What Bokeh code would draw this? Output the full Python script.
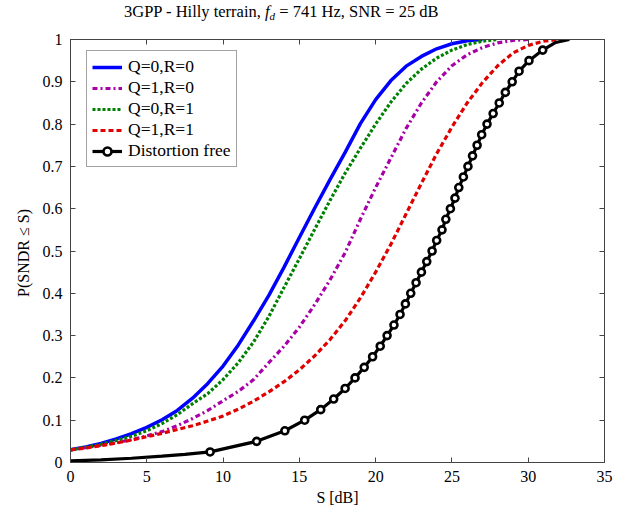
from bokeh.plotting import figure
from bokeh.models import LinearAxis, FixedTicker, Range1d, Div, CustomLabelingPolicy
from bokeh.layouts import column
from bokeh.embed import file_html
from bokeh.resources import INLINE

# ---------------- data ----------------
x_ticks = [0, 5, 10, 15, 20, 25, 30, 35]
y_ticks = [0, 0.1, 0.2, 0.3, 0.4, 0.5, 0.6, 0.7, 0.8, 0.9, 1]

q0r0_x = [0, 1, 2, 3, 4, 5, 6, 7, 8, 9, 10, 11, 12, 13, 14, 15, 16, 17, 18, 19, 20, 21, 22, 23, 24, 25, 26, 27]
q0r0_p = [0.030, 0.037, 0.045, 0.056, 0.068, 0.083, 0.101, 0.123, 0.152, 0.187, 0.228, 0.278, 0.335, 0.395,
          0.462, 0.532, 0.601, 0.668, 0.733, 0.801, 0.858, 0.903, 0.937, 0.960, 0.978, 0.990, 0.997, 1.0]

q1r0_x = [0, 1, 2, 3, 4, 5, 6, 7, 8, 9, 10, 11, 12, 13, 14, 15, 16, 17, 18, 19, 20, 21, 22, 23, 24, 25, 26, 27, 28, 29, 30]
q1r0_p = [0.030, 0.035, 0.041, 0.047, 0.054, 0.063, 0.073, 0.087, 0.104, 0.123, 0.146, 0.168, 0.196, 0.236,
          0.275, 0.320, 0.373, 0.431, 0.496, 0.575, 0.650, 0.720, 0.790, 0.850, 0.900, 0.938, 0.964, 0.981,
          0.992, 0.998, 1.0]

q0r1_x = [0, 1, 2, 3, 4, 5, 6, 7, 8, 9, 10, 11, 12, 13, 14, 15, 16, 17, 18, 19, 20, 21, 22, 23, 24, 25, 26, 27, 28]
q0r1_p = [0.030, 0.036, 0.043, 0.052, 0.062, 0.075, 0.092, 0.113, 0.139, 0.163, 0.196, 0.236, 0.285, 0.345,
          0.414, 0.482, 0.551, 0.619, 0.684, 0.743, 0.800, 0.852, 0.896, 0.930, 0.956, 0.975, 0.988, 0.996, 1.0]

q1r1_x = [0, 1, 2, 3, 4, 5, 6, 7, 8, 9, 10, 11, 12, 13, 14, 15, 16, 17, 18, 19, 20, 21, 22, 23, 24, 25, 26, 27, 28, 29, 30, 31, 32]
q1r1_p = [0.030, 0.034, 0.040, 0.046, 0.053, 0.061, 0.069, 0.078, 0.087, 0.098, 0.110, 0.126, 0.145, 0.167,
          0.191, 0.219, 0.252, 0.290, 0.335, 0.389, 0.450, 0.516, 0.588, 0.660, 0.730, 0.793, 0.850, 0.898,
          0.938, 0.968, 0.986, 0.996, 1.0]

df_head_x = [0, 2, 4, 6, 7.5]
df_head_p = [0.004, 0.006, 0.010, 0.015, 0.019]
df_mark_x = [9.15, 12.2, 14.05, 15.35, 16.4, 17.25, 18.0, 18.65, 19.25, 19.8,
             20.3, 20.75, 21.2, 21.6, 21.95, 22.3, 22.65, 23.0, 23.35, 23.7,
             24.0, 24.35, 24.6, 24.9, 25.2, 25.45, 25.75, 26.05, 26.35, 26.65,
             26.95, 27.3, 27.7, 28.1, 28.5, 28.95, 29.4, 30.05, 30.95]
df_mark_p = [0.025, 0.05, 0.075, 0.1, 0.125, 0.15, 0.175, 0.2, 0.225, 0.25,
             0.275, 0.3, 0.325, 0.35, 0.375, 0.4, 0.425, 0.45, 0.475, 0.5,
             0.525, 0.55, 0.575, 0.6, 0.625, 0.65, 0.675, 0.7, 0.725, 0.75,
             0.775, 0.8, 0.825, 0.85, 0.875, 0.9, 0.925, 0.95, 0.975]
df_tail_x = [31.8, 32.7]
df_tail_p = [0.993, 1.0]

labels = ["Q=0,R=0", "Q=1,R=0", "Q=0,R=1", "Q=1,R=1", "Distortion free"]

# ---------------- figure ----------------
FONT = "Liberation Serif"
AX = "#444444"

p = figure(width=623, height=485, x_range=Range1d(0, 35), y_range=Range1d(0, 1),
           output_backend="svg", toolbar_location=None, margin=(0, 0, 0, 0),
           min_border_left=70, min_border_right=19, min_border_top=14, min_border_bottom=48)
p.xgrid.visible = False
p.ygrid.visible = False
p.outline_line_color = AX
p.outline_line_width = 1
p.background_fill_color = "white"
p.border_fill_color = "white"

def style_axis(ax, ticks, show_labels):
    ax.ticker = FixedTicker(ticks=ticks)
    ax.major_tick_in = 5
    ax.major_tick_out = 0
    ax.minor_tick_in = 0
    ax.minor_tick_out = 0
    ax.major_tick_line_color = AX
    ax.axis_line_color = AX
    if show_labels:
        ax.major_label_text_font = FONT
        ax.major_label_text_font_size = "16px"
        ax.major_label_text_color = "black"
        ax.axis_label_text_font = FONT
        ax.axis_label_text_font_size = "16px"
        ax.axis_label_text_font_style = "normal"
        ax.axis_label_text_color = "black"
    else:
        ax.major_label_policy = CustomLabelingPolicy(code="return []")
        ax.major_label_text_font_size = "0px"
        ax.major_label_standoff = 0
        ax.axis_label_standoff = 0

xa = p.xaxis[0]
ya = p.yaxis[0]
style_axis(xa, x_ticks, True)
style_axis(ya, y_ticks, True)
xa.axis_label = "S [dB]"
xa.major_label_standoff = 8
xa.axis_label_standoff = 4
ya.axis_label = "P(SNDR  \u2264 S)"
ya.major_label_standoff = 8
ya.axis_label_standoff = 8
ya.major_label_overrides = {0: "0", 1: "1"}

top_ax = LinearAxis()
style_axis(top_ax, x_ticks, False)
p.add_layout(top_ax, "above")
right_ax = LinearAxis()
style_axis(right_ax, y_ticks, False)
p.add_layout(right_ax, "right")

# ---------------- curves ----------------
p.line(q0r0_x, q0r0_p, line_color="#0000ff", line_width=3.5, legend_label=labels[0])
p.line(q1r0_x, q1r0_p, line_color="#a800a8", line_width=3.2, line_dash="5 3 2 3", legend_label=labels[1])
p.line(q0r1_x, q0r1_p, line_color="#008000", line_width=3.2, line_dash="3 2", legend_label=labels[2])
p.line(q1r1_x, q1r1_p, line_color="#e00000", line_width=3.2, line_dash="5 3", legend_label=labels[3])

df_x = df_head_x + df_mark_x + df_tail_x
df_p = df_head_p + df_mark_p + df_tail_p
p.line(df_x, df_p, line_color="black", line_width=3.2, legend_label=labels[4])
p.scatter(df_mark_x, df_mark_p, size=7, marker="circle", fill_color="white",
          line_color="black", line_width=2.6, legend_label=labels[4])

lg = p.legend[0]
lg.location = (16, 295)
lg.label_text_font = FONT
lg.label_text_font_size = "17.5px"
lg.label_text_color = "black"
lg.label_height = 20
lg.glyph_height = 20
lg.glyph_width = 30
lg.spacing = 0
lg.padding = 5
lg.margin = 0
lg.label_standoff = 6
lg.border_line_color = AX
lg.border_line_width = 1
lg.background_fill_alpha = 1.0

# ---------------- title ----------------
title = Div(
    text=('<div style="padding-left:124px;padding-top:3px;text-align:left;'
          'font-family:\'Liberation Serif\';font-size:16.5px;line-height:18px;color:black;white-space:nowrap;">'
          '3GPP - Hilly terrain, <i>f</i><sub style="font-size:11px;font-style:italic;vertical-align:-3px;">d</sub>'
          ' = 741 Hz, SNR = 25 dB</div>'),
    width=623, height=25, margin=(0, 0, 0, 0))

layout = column(title, p, spacing=0)
open("out.html", "w").write(file_html(layout, INLINE))
